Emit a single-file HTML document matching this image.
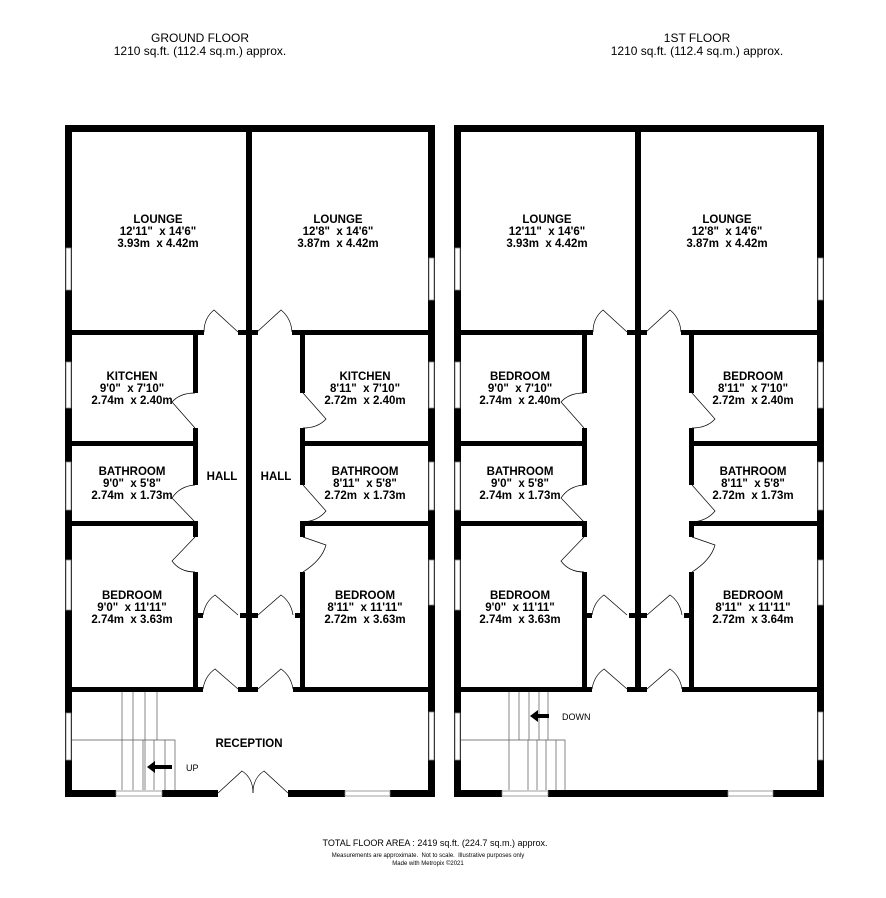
<!DOCTYPE html>
<html><head><meta charset="utf-8"><style>
body{margin:0;background:#fff}
svg{display:block}
text{font-family:"Liberation Sans",Arial,sans-serif;fill:#000;white-space:pre}
.b{font-weight:bold;font-size:11.5px}
</style></head><body>
<svg width="886" height="898" viewBox="0 0 886 898" xmlns="http://www.w3.org/2000/svg">
<defs>
<g id="core">
 <rect x="65" y="125" width="370" height="7"/>
 <rect x="65" y="125" width="7" height="672"/>
 <rect x="428" y="125" width="7" height="672"/>
 <rect x="246" y="132" width="6" height="560"/>
 <rect x="72" y="330" width="132" height="5"/>
 <rect x="238" y="330" width="20" height="5"/>
 <rect x="292" y="330" width="136" height="5"/>
 <rect x="193" y="335" width="5" height="58"/>
 <rect x="193" y="428" width="5" height="57"/>
 <rect x="193" y="521" width="5" height="16"/>
 <rect x="193" y="572" width="5" height="120"/>
 <rect x="300" y="335" width="5" height="58"/>
 <rect x="300" y="428" width="5" height="57"/>
 <rect x="300" y="521" width="5" height="16"/>
 <rect x="300" y="572" width="5" height="120"/>
 <rect x="198" y="613" width="5" height="5"/>
 <rect x="295" y="613" width="5" height="5"/>
 <rect x="240" y="613" width="18" height="5"/>
 <rect x="72" y="441" width="121" height="5"/>
 <rect x="72" y="521" width="121" height="5"/>
 <rect x="305" y="441" width="123" height="5"/>
 <rect x="305" y="521" width="123" height="5"/>
 <rect x="72" y="687" width="131" height="5"/>
 <rect x="238" y="687" width="20" height="5"/>
 <rect x="293" y="687" width="135" height="5"/>
 <g fill="#fff" stroke="#888" stroke-width="0.8">
  <rect x="66" y="248" width="5" height="42"/>
  <rect x="66" y="362" width="5" height="46"/>
  <rect x="66" y="462" width="5" height="48"/>
  <rect x="66" y="560" width="5" height="50"/>
  <rect x="66" y="713" width="5" height="47"/>
  <rect x="429" y="258" width="5" height="42"/>
  <rect x="429" y="362" width="5" height="46"/>
  <rect x="429" y="462" width="5" height="48"/>
  <rect x="429" y="560" width="5" height="45"/>
  <rect x="429" y="712" width="5" height="48"/>
 </g>
 <g fill="none" stroke="#000" stroke-width="0.7">
  <path d="M238 332 L214 310 Q204 318 204 332"/>
  <path d="M257 332 L281 310 Q291 318 292 332"/>
  <path d="M195 428 L172 402 Q180 393 195 393"/>
  <path d="M195 522 L172 498 Q180 486 195 485"/>
  <path d="M195 537 L172 561 Q180 572 195 572"/>
  <path d="M303 393 L326 419 Q318 428 303 428"/>
  <path d="M303 485 L326 511 Q318 521 303 522"/>
  <path d="M303 537 L326 545 Q322 560 303 572"/>
  <path d="M238 615 L215 595 Q205 602 203 615"/>
  <path d="M258 615 L281 595 Q291 602 293 615"/>
  <path d="M238 689 L215 669 Q205 676 203 689"/>
  <path d="M258 689 L281 669 Q291 676 293 689"/>
 </g>
</g>
</defs>

<text x="200" y="42" font-size="12" text-anchor="middle">GROUND FLOOR</text>
<text x="200" y="55" font-size="12" text-anchor="middle">1210 sq.ft. (112.4 sq.m.) approx.</text>
<text x="697" y="42" font-size="12" text-anchor="middle">1ST FLOOR</text>
<text x="697" y="55" font-size="12" text-anchor="middle">1210 sq.ft. (112.4 sq.m.) approx.</text>

<use href="#core"/>
<rect x="65" y="790" width="51" height="7"/>
<rect x="162" y="790" width="56" height="7"/>
<rect x="288" y="790" width="57" height="7"/>
<rect x="390" y="790" width="45" height="7"/>
<g fill="#fff" stroke="#888" stroke-width="0.8">
 <rect x="116" y="791" width="46" height="5"/>
 <rect x="345" y="791" width="45" height="5"/>
</g>
<g fill="none" stroke="#000" stroke-width="0.7">
 <path d="M218 793 L242 771 Q253 778 253 793"/>
 <path d="M288 793 L264 771 Q253 778 253 793"/>
</g>
<g fill="none" stroke="#555" stroke-width="0.7">
 <path d="M122 692 V790 M133 692 V790 M145 692 V790 M157 692 V740 M72 740 H175 V790 M143 740 V790 M154 740 V790 M165 740 V790"/>
</g>
<path d="M172 765 H155 V761 L147 767 L155 773 V769 H172 Z" fill="#000"/>
<text x="186" y="771" font-size="9">UP</text>

<g class="b" text-anchor="middle">
 <text x="158" y="223">LOUNGE</text><text x="158" y="235">12'11"  x 14'6"</text><text x="158" y="247">3.93m  x 4.42m</text>
 <text x="338" y="223">LOUNGE</text><text x="338" y="235">12'8"  x 14'6"</text><text x="338" y="247">3.87m  x 4.42m</text>
 <text x="132" y="380">KITCHEN</text><text x="132" y="392">9'0"  x 7'10"</text><text x="132" y="404">2.74m  x 2.40m</text>
 <text x="365" y="380">KITCHEN</text><text x="365" y="392">8'11"  x 7'10"</text><text x="365" y="404">2.72m  x 2.40m</text>
 <text x="132" y="475">BATHROOM</text><text x="132" y="487">9'0"  x 5'8"</text><text x="132" y="499">2.74m  x 1.73m</text>
 <text x="365" y="475">BATHROOM</text><text x="365" y="487">8'11"  x 5'8"</text><text x="365" y="499">2.72m  x 1.73m</text>
 <text x="132" y="599">BEDROOM</text><text x="132" y="611">9'0"  x 11'11"</text><text x="132" y="623">2.74m  x 3.63m</text>
 <text x="365" y="599">BEDROOM</text><text x="365" y="611">8'11"  x 11'11"</text><text x="365" y="623">2.72m  x 3.63m</text>
 <text x="222" y="480">HALL</text><text x="276" y="480">HALL</text>
 <text x="249" y="747">RECEPTION</text>
</g>

<g transform="translate(389,0)"><use href="#core"/></g>
<rect x="454" y="790" width="48" height="7"/>
<rect x="548" y="790" width="180" height="7"/>
<rect x="773" y="790" width="51" height="7"/>
<g fill="#fff" stroke="#888" stroke-width="0.8">
 <rect x="502" y="791" width="46" height="5"/>
 <rect x="728" y="791" width="45" height="5"/>
</g>
<g fill="none" stroke="#555" stroke-width="0.7">
 <path d="M509 692 V790 M519 692 V740 M529 692 V740 M539 692 V740 M548 692 V740 M461 740 H565 V790 M528 740 V790 M537 740 V790 M546 740 V790 M556 740 V790"/>
</g>
<path d="M549 714 H538 V710 L530 716 L538 722 V718 H549 Z" fill="#000"/>
<text x="562" y="720" font-size="9">DOWN</text>

<g class="b" text-anchor="middle">
 <text x="547" y="223">LOUNGE</text><text x="547" y="235">12'11"  x 14'6"</text><text x="547" y="247">3.93m  x 4.42m</text>
 <text x="727" y="223">LOUNGE</text><text x="727" y="235">12'8"  x 14'6"</text><text x="727" y="247">3.87m  x 4.42m</text>
 <text x="520" y="380">BEDROOM</text><text x="520" y="392">9'0"  x 7'10"</text><text x="520" y="404">2.74m  x 2.40m</text>
 <text x="753" y="380">BEDROOM</text><text x="753" y="392">8'11"  x 7'10"</text><text x="753" y="404">2.72m  x 2.40m</text>
 <text x="520" y="475">BATHROOM</text><text x="520" y="487">9'0"  x 5'8"</text><text x="520" y="499">2.74m  x 1.73m</text>
 <text x="753" y="475">BATHROOM</text><text x="753" y="487">8'11"  x 5'8"</text><text x="753" y="499">2.72m  x 1.73m</text>
 <text x="520" y="599">BEDROOM</text><text x="520" y="611">9'0"  x 11'11"</text><text x="520" y="623">2.74m  x 3.63m</text>
 <text x="753" y="599">BEDROOM</text><text x="753" y="611">8'11"  x 11'11"</text><text x="753" y="623">2.72m  x 3.64m</text>
</g>

<text x="435" y="846" font-size="9" text-anchor="middle">TOTAL FLOOR AREA : 2419 sq.ft. (224.7 sq.m.) approx.</text>
<text x="428" y="857" font-size="6" text-anchor="middle">Measurements are approximate.  Not to scale.  Illustrative purposes only</text>
<text x="428" y="865" font-size="6" text-anchor="middle">Made with Metropix ©2021</text>
</svg>
</body></html>
